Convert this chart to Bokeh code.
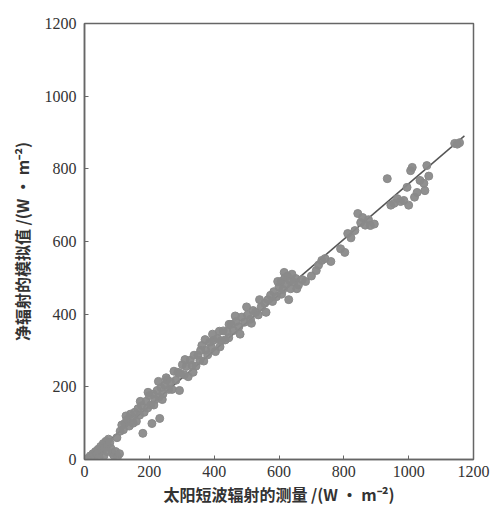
from bokeh.plotting import figure
from bokeh.embed import file_html
from bokeh.resources import INLINE
from bokeh.models import Range1d, FixedTicker
import numpy as np

# measured shortwave radiation (x) vs simulated net radiation (y), W m^-2
meas_x = [12, 18, 22, 26, 30, 34, 38, 42, 46, 50, 54, 58, 62, 66, 70, 74, 78, 82, 86, 90,
          96, 102, 108, 60, 45, 70, 100, 110,
          115, 120, 125, 132, 138, 142, 148, 155, 160, 165, 170, 176, 180, 184, 190, 195,
          200, 205, 208, 212, 218, 224, 230, 232, 236, 242, 248,
          228, 214, 196, 172, 150, 128, 252, 240,
          254, 260, 265, 270, 276, 282, 288, 293, 296, 302, 308, 314, 320, 326, 332, 338,
          344, 350, 356, 362, 368, 374, 380, 386, 392, 398, 404, 410, 416, 422, 428, 434,
          440, 446,
          310, 335, 358, 372, 395, 418, 445,
          452, 460, 468, 476, 485, 494, 503, 512, 520, 528, 536, 545, 556, 566, 574, 584,
          592, 600, 606, 612, 618, 622, 626, 630, 634, 640, 646, 652, 660, 672, 682,
          465, 480, 500, 515, 540, 560, 580, 596, 608, 616, 636, 655, 700,
          715, 722, 732, 742, 760, 790, 803, 812, 822, 834, 843, 852, 858, 866, 876, 882, 894,
          934, 945, 955, 965, 975, 985, 995, 1000, 1006, 1011, 1018, 1026, 1035, 1047, 1050,
          1056, 1062, 1142, 1150, 1157]
sim_y = [4, 10, 3, 16, 8, 22, 14, 28, 18, 36, 26, 44, 32, 50, 40, 56, 46, 30, 18, 12,
         22, 8, 16, 10, 5, 22, 60, 78,
         95, 82, 100, 110, 92, 125, 115, 130, 105, 140, 122, 148, 72, 130, 160, 142,
         176, 150, 99, 180, 165, 190, 172, 113, 198, 180, 205,
         215, 150, 185, 160, 100, 120, 225, 165,
         219, 193, 214, 193, 243, 218, 240, 190, 237, 261, 233, 256, 228, 273, 259, 287,
         257, 287, 273, 314, 271, 301, 288, 323, 308, 328, 297, 333, 353, 327, 354, 329,
         352, 372,
         275, 240, 300, 330, 345, 310, 335,
         372, 355, 380, 365, 392, 378, 398, 386, 410, 405, 398, 420, 430, 440, 452, 462,
         448, 475, 490, 468, 500, 482, 505, 440, 492, 510, 488, 498, 480, 495, 490,
         395, 345, 420, 375, 440, 405, 435, 490, 455, 515, 470, 470, 505,
         520, 535, 548, 553, 545, 580, 570, 622, 610, 630, 677, 652, 666, 645, 660, 644, 648,
         773, 700, 705, 718, 710, 713, 749, 700, 795, 804, 722, 735, 768, 760, 740,
         809, 780, 870, 868, 872]

fit_slope = 0.765
fit_intercept = -6.0
fit_x_range = [10, 1172]

ticks = [0, 200, 400, 600, 800, 1000, 1200]

p = figure(width=504, height=510, output_backend="svg", toolbar_location=None,
           x_range=Range1d(0, 1200), y_range=Range1d(0, 1200),
           min_border_left=84, min_border_right=31, min_border_top=23, min_border_bottom=51)

fx = np.array(fit_x_range, dtype=float)
p.line(fx, fit_slope * fx + fit_intercept, line_color="#555555", line_width=1.5)
p.scatter(meas_x, sim_y, size=8, fill_color="#8a8a8a", line_color="#8a8a8a", fill_alpha=0.95)

p.grid.visible = False
p.outline_line_color = "#666666"
p.outline_line_width = 1.5
p.background_fill_color = "white"
p.border_fill_color = "white"

for ax in (p.xaxis[0], p.yaxis[0]):
    ax.ticker = FixedTicker(ticks=ticks)
    ax.axis_line_color = "#666666"
    ax.axis_line_width = 1.5
    ax.major_tick_in = 4
    ax.major_tick_out = 0
    ax.major_tick_line_color = "#666666"
    ax.minor_tick_line_color = None
    ax.major_label_text_font = "Liberation Serif"
    ax.major_label_text_font_size = "16px"
    ax.major_label_text_color = "#333333"
    ax.axis_label_text_font = "Noto Sans CJK SC"
    ax.axis_label_text_font_size = "16px"
    ax.axis_label_text_font_style = "bold"
    ax.axis_label_text_color = "#333333"

p.xaxis[0].axis_label = "太阳短波辐射的测量 /(W · m⁻²)"
p.yaxis[0].axis_label = "净辐射的模拟值 /(W · m⁻²)"
p.xaxis[0].major_label_standoff = 6
p.yaxis[0].major_label_standoff = 8
p.xaxis[0].axis_label_standoff = 2
p.yaxis[0].axis_label_standoff = 8

open("out.html", "w").write(file_html(p, INLINE))
